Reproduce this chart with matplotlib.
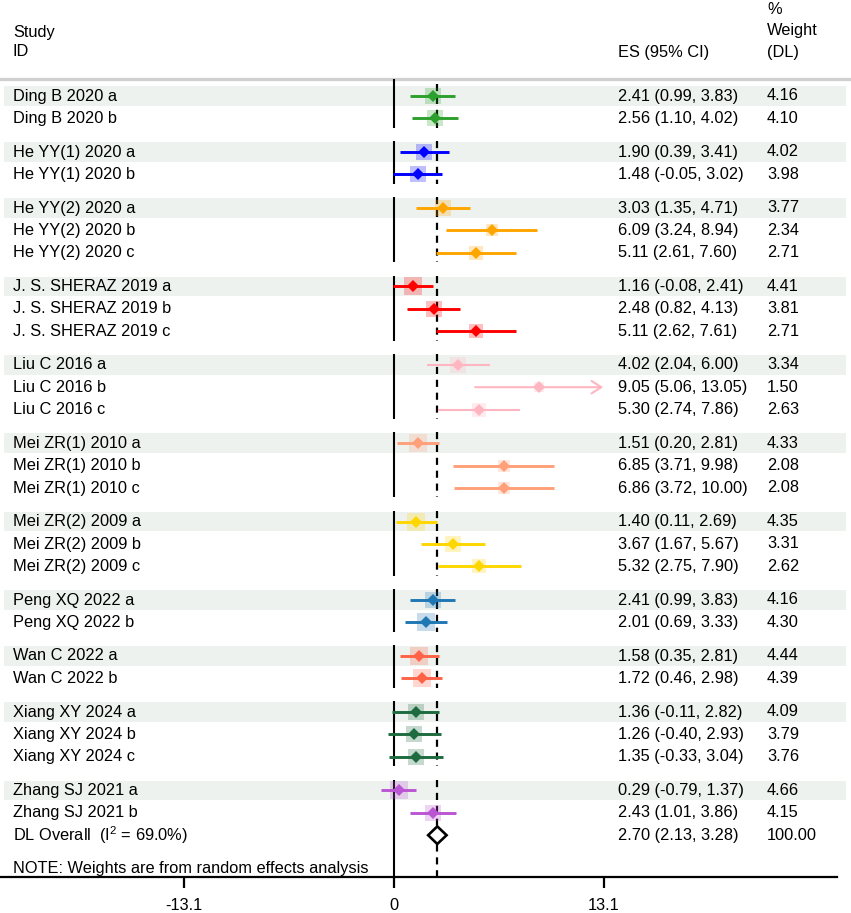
import matplotlib
matplotlib.use("Agg")
import matplotlib.pyplot as plt
from matplotlib.patches import Polygon

plt.rcParams['font.family'] = ['Liberation Sans', 'DejaVu Sans']
plt.rcParams['mathtext.fontset'] = 'custom'
plt.rcParams['mathtext.rm'] = 'Liberation Sans'

# ---------------- data ----------------
studies = ["Ding B 2020 a", "Ding B 2020 b",
           "He YY(1) 2020 a", "He YY(1) 2020 b",
           "He YY(2) 2020 a", "He YY(2) 2020 b", "He YY(2) 2020 c",
           "J. S. SHERAZ 2019 a", "J. S. SHERAZ 2019 b", "J. S. SHERAZ 2019 c",
           "Liu C 2016 a", "Liu C 2016 b", "Liu C 2016 c",
           "Mei ZR(1) 2010 a", "Mei ZR(1) 2010 b", "Mei ZR(1) 2010 c",
           "Mei ZR(2) 2009 a", "Mei ZR(2) 2009 b", "Mei ZR(2) 2009 c",
           "Peng XQ 2022 a", "Peng XQ 2022 b",
           "Wan C 2022 a", "Wan C 2022 b",
           "Xiang XY 2024 a", "Xiang XY 2024 b", "Xiang XY 2024 c",
           "Zhang SJ 2021 a", "Zhang SJ 2021 b"]
group_id = [0, 0, 1, 1, 2, 2, 2, 3, 3, 3, 4, 4, 4, 5, 5, 5, 6, 6, 6,
            7, 7, 8, 8, 9, 9, 9, 10, 10]
es = [2.41, 2.56, 1.90, 1.48, 3.03, 6.09, 5.11, 1.16, 2.48, 5.11,
      4.02, 9.05, 5.30, 1.51, 6.85, 6.86, 1.40, 3.67, 5.32,
      2.41, 2.01, 1.58, 1.72, 1.36, 1.26, 1.35, 0.29, 2.43]
lo = [0.99, 1.10, 0.39, -0.05, 1.35, 3.24, 2.61, -0.08, 0.82, 2.62,
      2.04, 5.06, 2.74, 0.20, 3.71, 3.72, 0.11, 1.67, 2.75,
      0.99, 0.69, 0.35, 0.46, -0.11, -0.40, -0.33, -0.79, 1.01]
hi = [3.83, 4.02, 3.41, 3.02, 4.71, 8.94, 7.60, 2.41, 4.13, 7.61,
      6.00, 13.05, 7.86, 2.81, 9.98, 10.00, 2.69, 5.67, 7.90,
      3.83, 3.33, 2.81, 2.98, 2.82, 2.93, 3.04, 1.37, 3.86]
weights = [4.16, 4.10, 4.02, 3.98, 3.77, 2.34, 2.71, 4.41, 3.81, 2.71,
           3.34, 1.50, 2.63, 4.33, 2.08, 2.08, 4.35, 3.31, 2.62,
           4.16, 4.30, 4.44, 4.39, 4.09, 3.79, 3.76, 4.66, 4.15]
group_colors = ["#2ca02c", "#0000ff", "#ffa500", "#ff0000", "#ffb6c1",
                "#ffa07a", "#ffd700", "#1f77b4", "#ff6347", "#1e6b3f", "#ba55d3"]
overall_es, overall_lo, overall_hi = 2.70, 2.13, 3.28
overall_i2 = 69.0
overall_weight = 100.00
tick_values = [-13.1, 0, 13.1]
tick_labels = ["-13.1", "0", "13.1"]
axis_limit = 13.0

# ---------------- layout ----------------
W, H = 851, 913
fig = plt.figure(figsize=(W / 100, H / 100), dpi=100)
ax = fig.add_axes([0, 0, 1, 1])
PX_PER_UNIT = 16.03
X0_PX = 394


def px2x(px):
    return (px - X0_PX) / PX_PER_UNIT


ax.set_xlim(px2x(0), px2x(W))
ax.set_ylim(H, 0)

ROW = 22.4
Y0 = 96
FS = 11.8

# y positions with half-row gaps between groups
ys = []
gaps = 0
for i, g in enumerate(group_id):
    if i > 0 and g != group_id[i - 1]:
        gaps += 1
    ys.append(Y0 + ROW * (i + 0.5 * gaps))
y_overall = ys[-1] + ROW
y_note = y_overall + 1.5 * ROW
y_axis = 877

# header
xt_study = px2x(13)
xt_es = px2x(618)
xt_w = px2x(767)
ax.text(xt_study, 32, "Study", fontsize=FS, va='center', ha='left')
ax.text(xt_study, 52, "ID", fontsize=FS, va='center', ha='left')
ax.text(xt_es, 52, "ES (95% CI)", fontsize=FS, va='center', ha='left')
ax.text(xt_w, 10, "%", fontsize=FS, va='center', ha='left')
ax.text(xt_w, 31, "Weight", fontsize=FS, va='center', ha='left')
ax.text(xt_w, 52, "(DL)", fontsize=FS, va='center', ha='left')
ax.axhline(79, color='#d0d0d0', lw=2.4, zorder=1)

# bands for first row of each group, and vertical line segments
ngroups = len(group_colors)
for g in range(ngroups):
    idx = [i for i, gg in enumerate(group_id) if gg == g]
    yfirst = ys[idx[0]]
    ylast = ys[idx[-1]]
    ax.axhspan(yfirst - 9.8, yfirst + 9.8, xmin=4 / W, xmax=846 / W,
               color='#edf2ef', lw=0, zorder=0)
    top = 79 if g == 0 else yfirst - 0.48 * ROW
    bot = y_axis if g == ngroups - 1 else ylast + 0.42 * ROW
    ax.plot([0, 0], [top, bot], color='black', lw=1.5, zorder=2,
            solid_capstyle='butt')
    dtop = 84 if g == 0 else top
    ax.plot([overall_es, overall_es], [dtop, bot], color='black', lw=1.6,
            linestyle=(0, (3.2, 2.6)), zorder=2)

# studies
for i, name in enumerate(studies):
    c = group_colors[group_id[i]]
    y = ys[i]
    side_px = 8.3 * weights[i] ** 0.5
    ax.plot(es[i], y, marker='s', markersize=side_px * 0.72, color=c,
            alpha=0.25, markeredgewidth=0, zorder=3)
    lw = 1.5 if group_id[i] == 4 else 2.1
    if hi[i] > axis_limit:
        ax.annotate('', xy=(hi[i], y), xytext=(lo[i], y),
                    arrowprops=dict(arrowstyle='->,head_length=0.7,head_width=0.45',
                                    color=c, lw=lw, shrinkA=0, shrinkB=0),
                    zorder=4)
    else:
        ax.plot([lo[i], hi[i]], [y, y], color=c, lw=lw, zorder=4,
                solid_capstyle='butt')
    ax.plot(es[i], y, marker='D', markersize=6.0, color=c,
            markeredgewidth=0, zorder=5)
    ax.text(xt_study, y, name, fontsize=FS, va='center', ha='left')
    ax.text(xt_es, y, f"{es[i]:.2f} ({lo[i]:.2f}, {hi[i]:.2f})",
            fontsize=FS, va='center', ha='left')
    ax.text(xt_w, y, f"{weights[i]:.2f}", fontsize=FS, va='center', ha='left')

# overall
dh = 8.8
diamond = Polygon([(overall_lo, y_overall), (overall_es, y_overall - dh),
                   (overall_hi, y_overall), (overall_es, y_overall + dh)],
                  closed=True, facecolor='white', edgecolor='black', lw=1.9,
                  zorder=6)
ax.add_patch(diamond)
ax.text(xt_study, y_overall, f"DL Overall  (I$^{{2}}$ = {overall_i2:.1f}%)",
        fontsize=FS, va='center', ha='left')
ax.text(xt_es, y_overall, f"{overall_es:.2f} ({overall_lo:.2f}, {overall_hi:.2f})",
        fontsize=FS, va='center', ha='left')
ax.text(xt_w, y_overall, f"{overall_weight:.2f}", fontsize=FS, va='center', ha='left')
ax.text(xt_study, y_note, "NOTE: Weights are from random effects analysis",
        fontsize=FS, va='center', ha='left')

# x axis
for s in ['top', 'left', 'right']:
    ax.spines[s].set_visible(False)
ax.spines['bottom'].set_position(('data', y_axis))
ax.spines['bottom'].set_bounds(px2x(0), px2x(837))
ax.spines['bottom'].set_linewidth(1.6)
ax.set_xticks(tick_values)
ax.set_xticklabels(tick_labels)
ax.tick_params(axis='x', direction='out', length=8, width=1.6, pad=7,
               labelsize=FS)
ax.set_yticks([])
ax.set_facecolor('white')

fig.savefig("out.png", dpi=100, facecolor='white')
